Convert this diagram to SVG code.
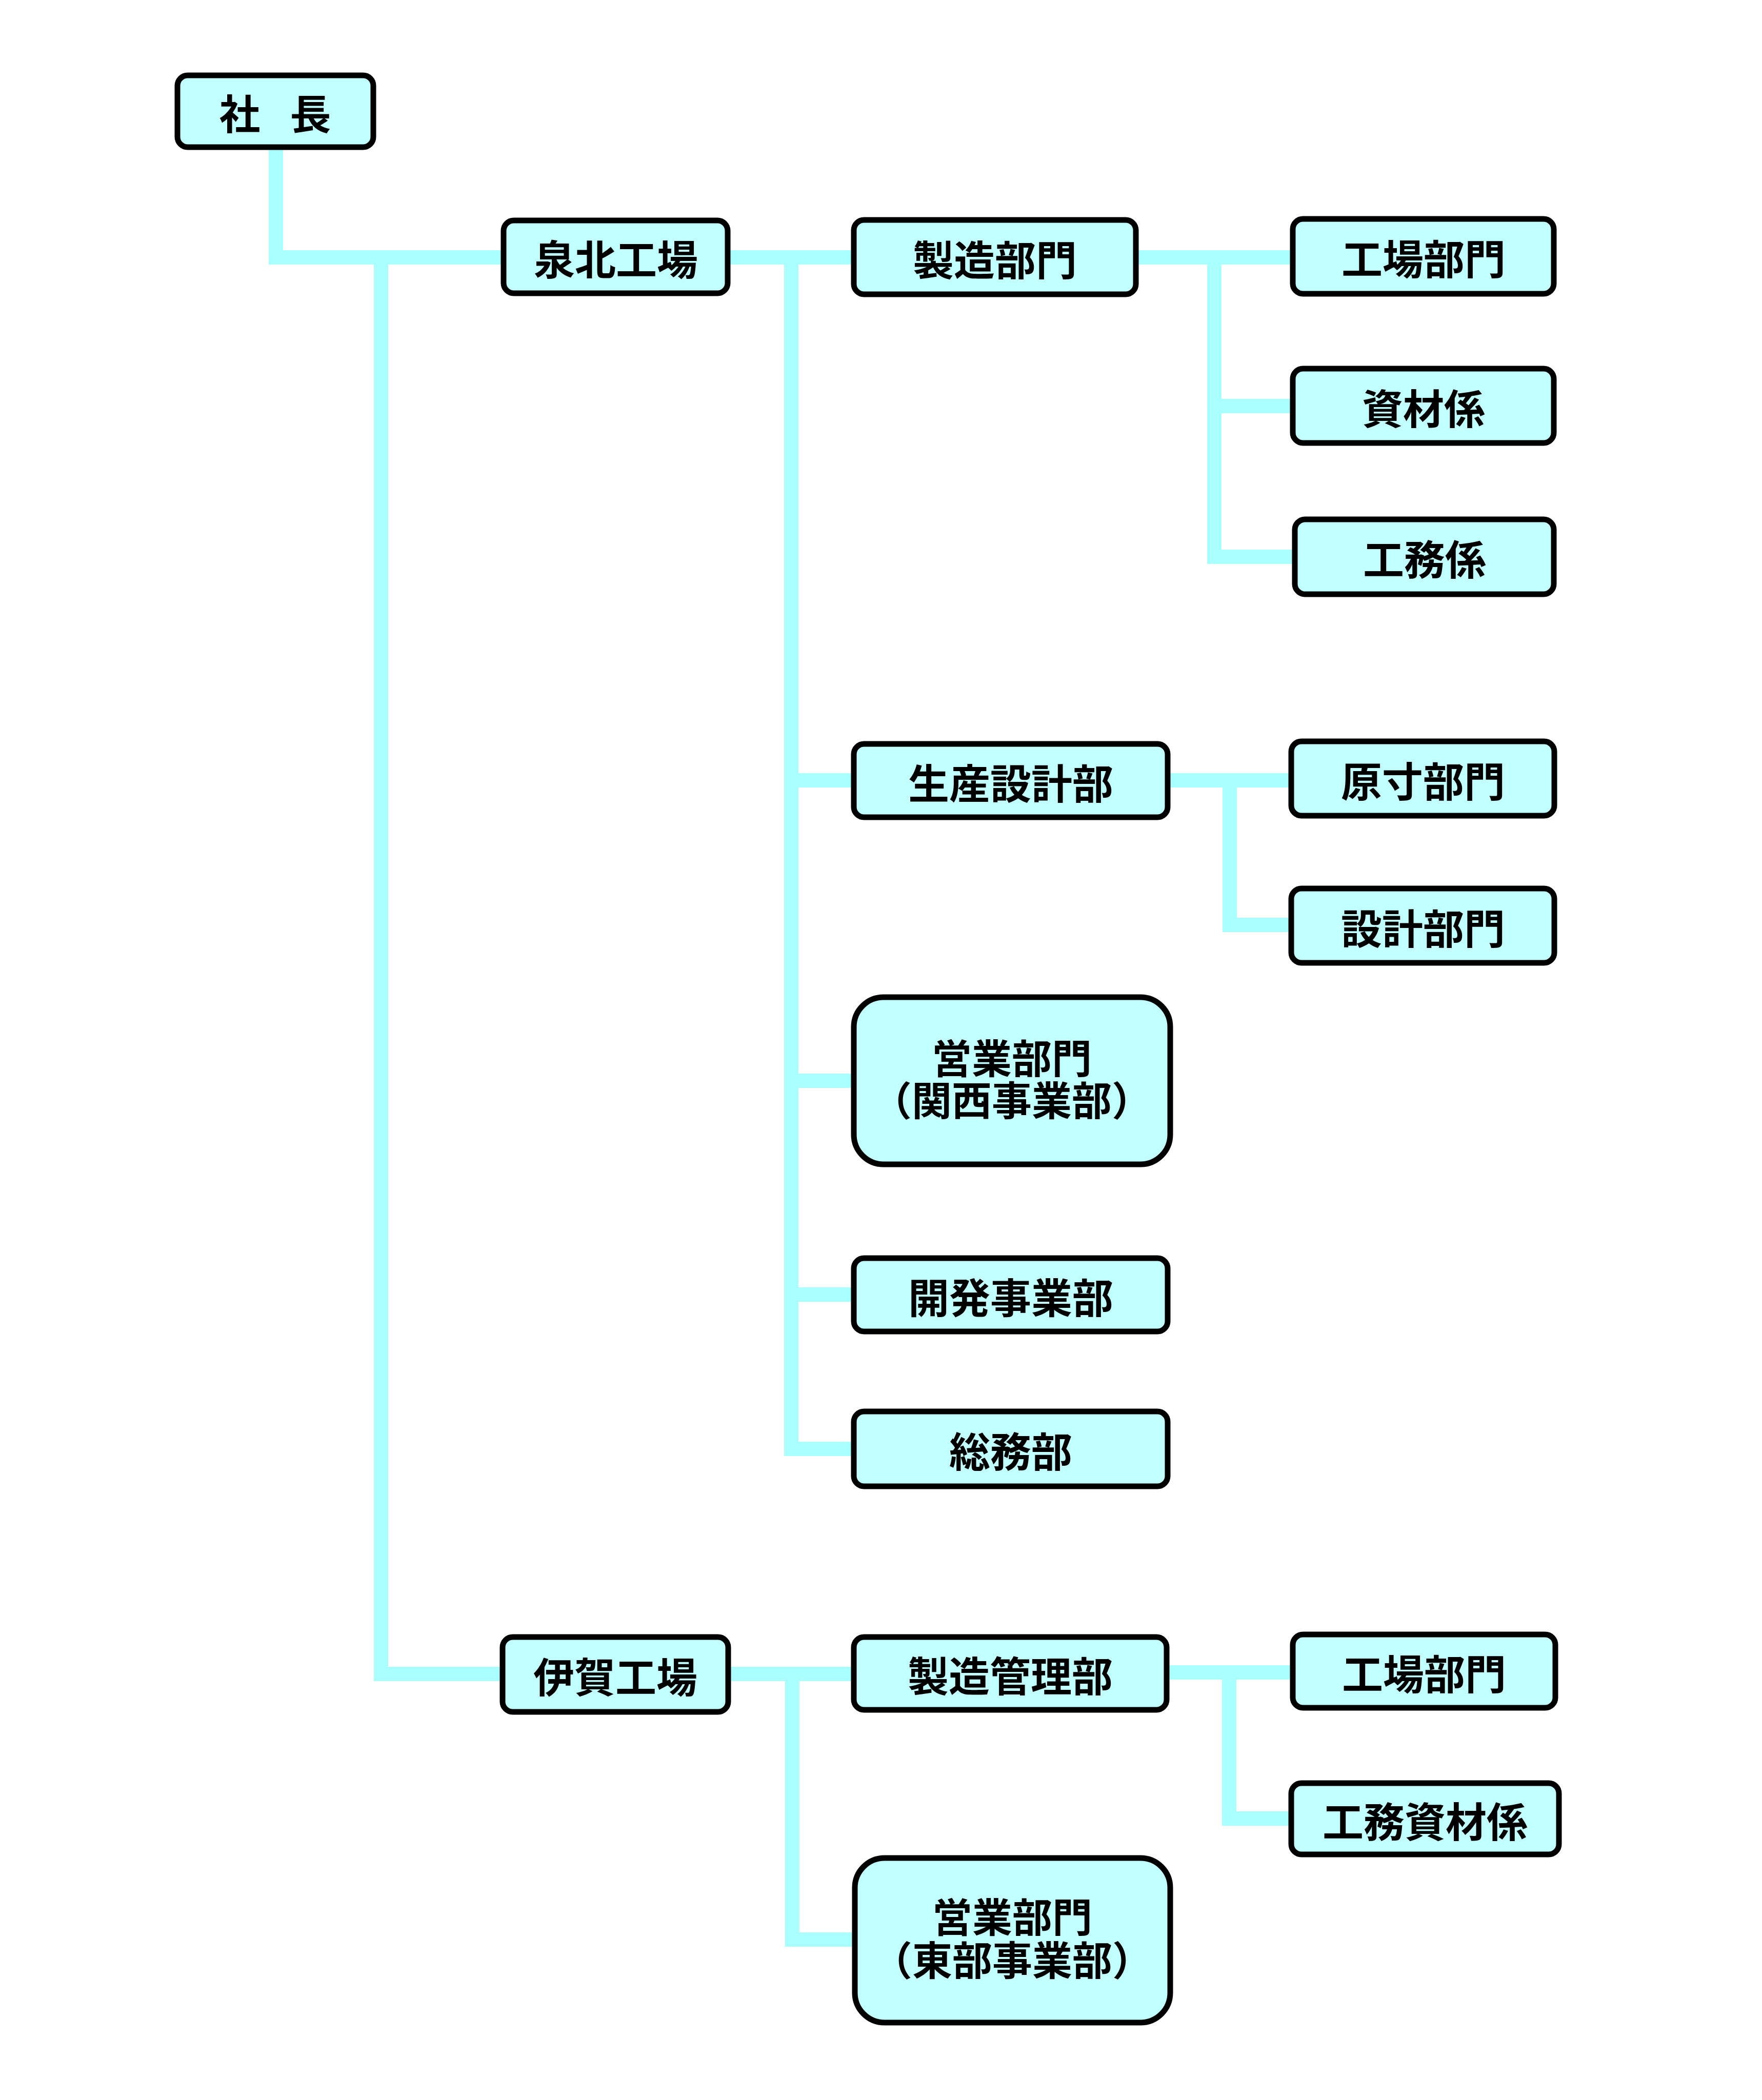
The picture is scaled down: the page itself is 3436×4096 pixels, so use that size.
<svg xmlns="http://www.w3.org/2000/svg" width="3436" height="4096" viewBox="0 0 3436 4096">
<style>
.n{fill:#C2FFFF;stroke:#000;stroke-width:11}
.t{font-family:"Noto Sans CJK JP","Noto Sans CJK SC",sans-serif;font-weight:bold;font-size:80px;text-anchor:middle;dominant-baseline:central;fill:#000}
.t2{font-size:78px}
.c{fill:none;stroke:#AAFFFF;stroke-width:28;stroke-linecap:butt;stroke-linejoin:miter}
</style>
<rect width="3436" height="4096" fill="#fff"/>
<g id="connectors" class="c">
<path d="M538 292V502H982"/>
<path d="M743 502V3265H980"/>
<path d="M1419 502H1665"/>
<path d="M1543 502V2826H1665"/>
<path d="M1543 1522H1665"/>
<path d="M1543 2108H1665"/>
<path d="M1543 2525H1665"/>
<path d="M2215 502H2521"/>
<path d="M2368 502V1086H2525"/>
<path d="M2368 792H2521"/>
<path d="M2277 1522H2518"/>
<path d="M2398 1522V1804H2518"/>
<path d="M1420 3265H1665"/>
<path d="M1545 3265V3783H1667"/>
<path d="M2275 3262H2521"/>
<path d="M2397 3262V3547H2518"/>
</g>
<g id="n-shacho"><rect class="n" x="346" y="147" width="382" height="140" rx="20"/><text class="t" x="531" y="217" style="letter-spacing:-11px">社　長</text></g>
<g id="n-senboku"><rect class="n" x="982" y="430" width="437" height="142" rx="20"/><text class="t" x="1201" y="501">泉北工場</text></g>
<g id="n-seizo"><rect class="n" x="1665" y="429" width="550" height="145" rx="20"/><text class="t" x="1940" y="502">製造部門</text></g>
<g id="n-kojo1"><rect class="n" x="2521" y="427" width="509" height="146" rx="20"/><text class="t" x="2776" y="500">工場部門</text></g>
<g id="n-shizai"><rect class="n" x="2521" y="719" width="509" height="145" rx="20"/><text class="t" x="2776" y="792">資材係</text></g>
<g id="n-komu"><rect class="n" x="2525" y="1013" width="505" height="146" rx="20"/><text class="t" x="2778" y="1086">工務係</text></g>
<g id="n-seisansekkei"><rect class="n" x="1665" y="1451" width="612" height="143" rx="20"/><text class="t" x="1971" y="1523">生産設計部</text></g>
<g id="n-gensun"><rect class="n" x="2518" y="1446" width="513" height="145" rx="20"/><text class="t" x="2775" y="1519">原寸部門</text></g>
<g id="n-sekkei"><rect class="n" x="2518" y="1733" width="513" height="145" rx="20"/><text class="t" x="2775" y="1806">設計部門</text></g>
<g id="n-eigyo-kansai"><rect class="n" x="1665" y="1945" width="617" height="326" rx="58"/><text class="t t2" x="1973" y="2060">営業部門</text><text class="t t2" x="1973" y="2142">（関西事業部）</text></g>
<g id="n-kaihatsu"><rect class="n" x="1665" y="2454" width="612" height="143" rx="20"/><text class="t" x="1971" y="2526">開発事業部</text></g>
<g id="n-somu"><rect class="n" x="1665" y="2753" width="612" height="146" rx="20"/><text class="t" x="1971" y="2826">総務部</text></g>
<g id="n-iga"><rect class="n" x="980" y="3193" width="440" height="146" rx="20"/><text class="t" x="1200" y="3266">伊賀工場</text></g>
<g id="n-seizokanri"><rect class="n" x="1665" y="3193" width="610" height="142" rx="20"/><text class="t" x="1970" y="3264">製造管理部</text></g>
<g id="n-kojo2"><rect class="n" x="2521" y="3188" width="512" height="143" rx="20"/><text class="t" x="2777" y="3260">工場部門</text></g>
<g id="n-komushizai"><rect class="n" x="2518" y="3478" width="522" height="139" rx="20"/><text class="t" x="2779" y="3548">工務資材係</text></g>
<g id="n-eigyo-tobu"><rect class="n" x="1667" y="3624" width="615" height="321" rx="58"/><text class="t t2" x="1974" y="3735">営業部門</text><text class="t t2" x="1974" y="3819">（東部事業部）</text></g>
</svg>
